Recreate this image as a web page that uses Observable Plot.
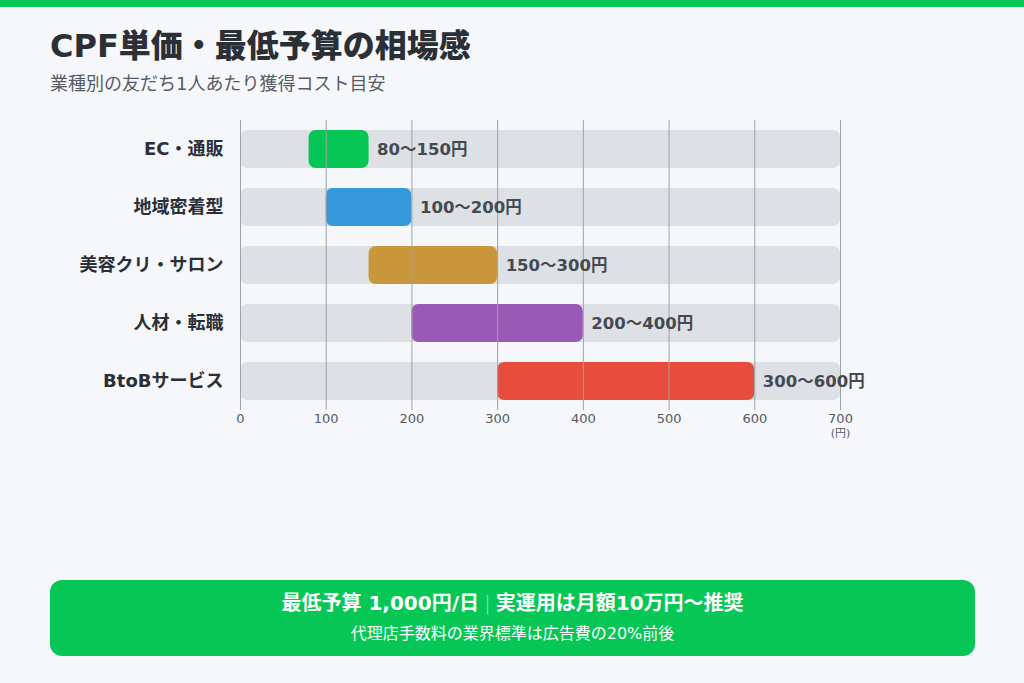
<!DOCTYPE html>
<html><head><meta charset="utf-8">
<script src="https://cdn.jsdelivr.net/npm/d3@7"></script>
<script src="https://cdn.jsdelivr.net/npm/@observablehq/plot@0.6"></script>
<style>
body{margin:0;background:#f5f7fa;width:1024px;height:683px;overflow:hidden;position:relative;font-family:"DejaVu Sans","Noto Sans CJK JP",sans-serif}
#band{position:absolute;left:0;top:0;width:1024px;height:7px;background:#06c755}
#title{position:absolute;left:50px;top:26px;font-size:32px;font-weight:900;color:#2b2f36;line-height:40px}
#sub{position:absolute;left:50px;top:72px;font-size:18px;font-weight:400;color:#555c66;line-height:24px}
#chart{position:absolute;left:0;top:110px}
#note{position:absolute;left:50px;top:580px;width:925px;height:76px;background:#06c755;border-radius:12px;color:#fff;text-align:center}
#note .l1{position:absolute;left:0;right:0;top:9px;font-size:20px;font-weight:700;line-height:28px}
#note .l2{position:absolute;left:0;right:0;top:43px;font-size:16px;font-weight:400;line-height:22px}
#note .sep{font-weight:300;opacity:0.55;margin:0 5px}
</style></head>
<body>
<div id="band"></div>
<div id="title">CPF単価・最低予算の相場感</div>
<div id="sub">業種別の友だち1人あたり獲得コスト目安</div>
<div id="chart"></div>
<div id="note"><div class="l1">最低予算 1,000円/日<span class="sep">|</span>実運用は月額10万円〜推奨</div><div class="l2">代理店手数料の業界標準は広告費の20%前後</div></div>
<script>
const categories = ["EC・通販","地域密着型","美容クリ・サロン","人材・転職","BtoBサービス"];
const lows = [80,100,150,200,300];
const highs = [150,200,300,400,600];
const barColors = ["#06c755","#3498db","#c9963c","#9b59b6","#e74c3c"];
const xTicks = [0,100,200,300,400,500,600,700];
const axisMax = 700;
const unitLabel = "(円)";

const data = categories.map((c,i)=>({cat:c,lo:lows[i],hi:highs[i],color:barColors[i],label:`${lows[i]}〜${highs[i]}円`}));
const font = '"DejaVu Sans","Noto Sans CJK JP",sans-serif';

const chart = Plot.plot({
  width:1024, height:330,
  marginLeft:240, marginRight:184, marginTop:10, marginBottom:30,
  style:{background:"transparent", fontFamily:font},
  x:{domain:[0,axisMax]},
  y:{domain:categories, paddingInner:0.345, paddingOuter:0.1725},
  color:{type:"identity"},
  marks:[
    Plot.barX(categories,{x1:0,x2:axisMax,y:d=>d,fill:"#dde0e4",rx:7}),
    Plot.barX(data,{x1:"lo",x2:"hi",y:"cat",fill:"color",rx:7}),
    Plot.ruleX(xTicks,{stroke:"#9ea3a8",strokeWidth:1}),
    Plot.text(data,{x:"hi",y:"cat",text:"label",dx:8,textAnchor:"start",fontSize:16.5,fontWeight:700,fill:"#444a52"}),
    Plot.axisX({ticks:xTicks,tickSize:0,tickPadding:3,fontSize:13,fill:"#555a62",label:null}),
    Plot.text([unitLabel],{x:axisMax,text:d=>d,frameAnchor:"bottom",dy:26,fontSize:11,fill:"#555a62"}),
    Plot.axisY({tickSize:0,tickPadding:17,fontSize:18,fontWeight:700,fill:"#2b2f36",label:null})
  ]
});
document.getElementById("chart").appendChild(chart);
</script>
</body></html>
